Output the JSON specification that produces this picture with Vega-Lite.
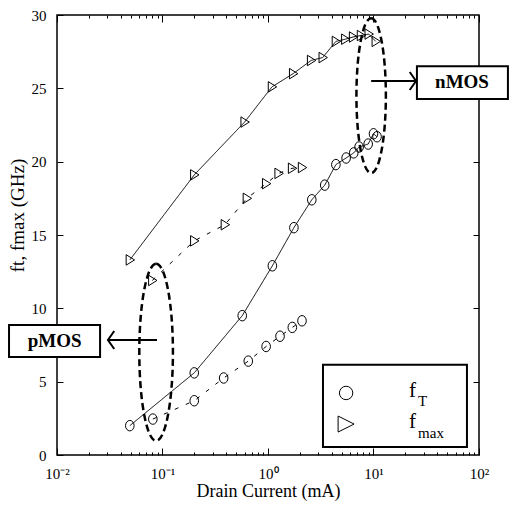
{
  "$schema": "https://vega.github.io/schema/vega-lite/v6.json",
  "width": 422,
  "height": 440,
  "autosize": {"type": "none"},
  "padding": {"left": 57, "top": 15, "right": 30, "bottom": 54},
  "background": "white",
  "config": {
    "view": {"stroke": "black", "strokeWidth": 1.5},
    "font": "Liberation Serif",
    "axis": {
      "grid": false,
      "domain": false,
      "tickColor": "black",
      "labelColor": "black",
      "titleColor": "black",
      "labelFont": "Liberation Serif",
      "titleFont": "Liberation Serif",
      "titleFontWeight": "normal"
    }
  },
  "datasets": {
    "series": [
      {"device": "nMOS", "param": "fmax", "I": 0.049, "f": 13.3},
      {"device": "nMOS", "param": "fmax", "I": 0.2, "f": 19.1},
      {"device": "nMOS", "param": "fmax", "I": 0.6, "f": 22.7},
      {"device": "nMOS", "param": "fmax", "I": 1.09, "f": 25.1},
      {"device": "nMOS", "param": "fmax", "I": 1.73, "f": 26.0},
      {"device": "nMOS", "param": "fmax", "I": 2.56, "f": 26.9},
      {"device": "nMOS", "param": "fmax", "I": 3.3, "f": 27.1},
      {"device": "nMOS", "param": "fmax", "I": 4.4, "f": 28.2},
      {"device": "nMOS", "param": "fmax", "I": 5.4, "f": 28.35},
      {"device": "nMOS", "param": "fmax", "I": 6.4, "f": 28.5},
      {"device": "nMOS", "param": "fmax", "I": 7.6, "f": 28.6},
      {"device": "nMOS", "param": "fmax", "I": 9.0, "f": 28.7},
      {"device": "nMOS", "param": "fmax", "I": 10.5, "f": 28.2},
      {"device": "nMOS", "param": "fT", "I": 0.049, "f": 2.0},
      {"device": "nMOS", "param": "fT", "I": 0.2, "f": 5.6},
      {"device": "nMOS", "param": "fT", "I": 0.57, "f": 9.5},
      {"device": "nMOS", "param": "fT", "I": 1.1, "f": 12.9},
      {"device": "nMOS", "param": "fT", "I": 1.76, "f": 15.5},
      {"device": "nMOS", "param": "fT", "I": 2.6, "f": 17.4},
      {"device": "nMOS", "param": "fT", "I": 3.45, "f": 18.4},
      {"device": "nMOS", "param": "fT", "I": 4.4, "f": 19.8},
      {"device": "nMOS", "param": "fT", "I": 5.5, "f": 20.25},
      {"device": "nMOS", "param": "fT", "I": 6.5, "f": 20.6},
      {"device": "nMOS", "param": "fT", "I": 7.3, "f": 21.0},
      {"device": "nMOS", "param": "fT", "I": 8.9, "f": 21.2},
      {"device": "nMOS", "param": "fT", "I": 10.0, "f": 21.9},
      {"device": "nMOS", "param": "fT", "I": 10.8, "f": 21.7},
      {"device": "pMOS", "param": "fmax", "I": 0.08, "f": 11.9},
      {"device": "pMOS", "param": "fmax", "I": 0.2, "f": 14.6},
      {"device": "pMOS", "param": "fmax", "I": 0.39, "f": 15.7},
      {"device": "pMOS", "param": "fmax", "I": 0.63, "f": 17.5},
      {"device": "pMOS", "param": "fmax", "I": 0.96, "f": 18.5},
      {"device": "pMOS", "param": "fmax", "I": 1.26, "f": 19.2},
      {"device": "pMOS", "param": "fmax", "I": 1.69, "f": 19.55},
      {"device": "pMOS", "param": "fmax", "I": 2.1, "f": 19.6},
      {"device": "pMOS", "param": "fT", "I": 0.081, "f": 2.45},
      {"device": "pMOS", "param": "fT", "I": 0.2, "f": 3.7},
      {"device": "pMOS", "param": "fT", "I": 0.38, "f": 5.25},
      {"device": "pMOS", "param": "fT", "I": 0.65, "f": 6.4},
      {"device": "pMOS", "param": "fT", "I": 0.96, "f": 7.4},
      {"device": "pMOS", "param": "fT", "I": 1.3, "f": 8.1},
      {"device": "pMOS", "param": "fT", "I": 1.7, "f": 8.7},
      {"device": "pMOS", "param": "fT", "I": 2.1, "f": 9.15}
    ],
    "ovals": [
      {"device": "nMOS", "I": 9.5, "f": 24.5},
      {"device": "pMOS", "I": 0.087, "f": 7.0}
    ],
    "arrows": [
      {"device": "nMOS", "I": 25.3, "I2": 9.5, "f": 25.5},
      {"device": "pMOS", "I": 0.0304, "I2": 0.0887, "f": 7.84}
    ],
    "tags": [
      {"device": "nMOS", "I": 25.8, "I2": 188, "f": 26.5, "f2": 24.27, "Ic": 69, "fc": 25.4},
      {"device": "pMOS", "I": 0.00351, "I2": 0.0256, "f": 8.86, "f2": 6.68, "Ic": 0.0095, "fc": 7.78}
    ],
    "keybox": [
      {"I": 3.32, "I2": 76.9, "f": 6.15, "f2": 0.55}
    ],
    "keys": [
      {"param": "fT", "sub": "T", "I": 5.5, "f": 4.23},
      {"param": "fmax", "sub": "max", "I": 5.5, "f": 2.11}
    ]
  },
  "resolve": {
    "axis": {"x": "independent", "y": "independent"},
    "scale": {"shape": "independent", "size": "independent"}
  },
  "layer": [
    {
      "data": {"name": "series"},
      "mark": {"type": "line", "color": "black", "strokeWidth": 1},
      "encoding": {
        "x": {
          "field": "I",
          "type": "quantitative",
          "scale": {"type": "log", "domain": [0.01, 100]},
          "axis": {
            "orient": "bottom",
            "values": [0.01, 0.1, 1, 10, 100],
            "labelExpr": "datum.value < 0.05 ? '10⁻²' : datum.value < 0.5 ? '10⁻¹' : datum.value < 5 ? '10⁰' : datum.value < 50 ? '10¹' : '10²'",
            "tickSize": -7,
            "labelPadding": 18,
            "labelFontSize": 15,
            "labelFlush": false,
            "labelOverlap": false,
            "title": "Drain Current (mA)",
            "titleFontSize": 18,
            "titleY": 36,
            "titleBaseline": "middle"
          }
        },
        "y": {
          "field": "f",
          "type": "quantitative",
          "scale": {"domain": [0, 30], "nice": false, "zero": false},
          "axis": {
            "orient": "left",
            "values": [0, 5, 10, 15, 20, 25, 30],
            "tickSize": -6,
            "labelPadding": 17,
            "labelFontSize": 15,
            "title": "ft, fmax (GHz)",
            "titleFontSize": 19,
            "titleX": -40,
            "titleY": 200,
            "titleBaseline": "middle"
          }
        },
        "detail": {"field": "param"},
        "strokeDash": {
          "field": "device",
          "type": "nominal",
          "scale": {"domain": ["nMOS", "pMOS"], "range": [[1, 0], [4, 8]]},
          "legend": null
        }
      }
    },
    {
      "data": {"name": "series"},
      "mark": {"type": "point", "filled": false, "stroke": "black", "strokeWidth": 1, "opacity": 1, "size": 110},
      "encoding": {
        "x": {
          "field": "I",
          "type": "quantitative",
          "axis": {
            "orient": "bottom",
            "values": [0.02, 0.03, 0.04, 0.05, 0.06, 0.07, 0.08, 0.09, 0.2, 0.3, 0.4, 0.5, 0.6, 0.7, 0.8, 0.9, 2, 3, 4, 5, 6, 7, 8, 9, 20, 30, 40, 50, 60, 70, 80, 90],
            "labels": false,
            "tickSize": -3,
            "title": null
          }
        },
        "y": {
          "field": "f",
          "type": "quantitative",
          "axis": {
            "orient": "right",
            "values": [5, 10, 15, 20, 25],
            "labels": false,
            "tickSize": -6,
            "title": null
          }
        },
        "shape": {
          "field": "param",
          "type": "nominal",
          "scale": {
            "domain": ["fT", "fmax"],
            "range": ["M0,-1A0.82,1 0 1,1 0,1A0.82,1 0 1,1 0,-1Z", "M-0.7,-1L0.9,0L-0.7,1Z"]
          },
          "legend": null
        }
      }
    },
    {
      "data": {"name": "ovals"},
      "mark": {
        "type": "point",
        "filled": false,
        "stroke": "black",
        "strokeWidth": 2.5,
        "strokeDash": [7, 4],
        "opacity": 1,
        "shape": "M0,-1A0.19,1 0 1,1 0,1A0.19,1 0 1,1 0,-1Z"
      },
      "encoding": {
        "x": {
          "field": "I",
          "type": "quantitative",
          "axis": {
            "orient": "top",
            "values": [0.01, 0.1, 1, 10, 100],
            "labels": false,
            "tickSize": -7,
            "title": null
          }
        },
        "y": {"field": "f", "type": "quantitative", "axis": null},
        "size": {
          "field": "device",
          "type": "ordinal",
          "scale": {"domain": ["nMOS", "pMOS"], "range": [24025, 31329]},
          "legend": null
        }
      }
    },
    {
      "data": {"name": "arrows"},
      "mark": {"type": "rule", "color": "black", "strokeWidth": 2},
      "encoding": {
        "x": {
          "field": "I2",
          "type": "quantitative",
          "axis": {
            "orient": "top",
            "values": [0.02, 0.03, 0.04, 0.05, 0.06, 0.07, 0.08, 0.09, 0.2, 0.3, 0.4, 0.5, 0.6, 0.7, 0.8, 0.9, 2, 3, 4, 5, 6, 7, 8, 9, 20, 30, 40, 50, 60, 70, 80, 90],
            "labels": false,
            "tickSize": -3,
            "title": null
          }
        },
        "x2": {"field": "I"},
        "y": {"field": "f", "type": "quantitative", "axis": null}
      }
    },
    {
      "data": {"name": "arrows"},
      "mark": {"type": "point", "filled": false, "stroke": "black", "strokeWidth": 2, "opacity": 1, "size": 324},
      "encoding": {
        "x": {"field": "I", "type": "quantitative", "axis": null},
        "y": {"field": "f", "type": "quantitative", "axis": null},
        "shape": {
          "field": "device",
          "type": "nominal",
          "scale": {"domain": ["nMOS", "pMOS"], "range": ["M-0.7,-1L0,0L-0.7,1", "M0.7,-1L0,0L0.7,1"]},
          "legend": null
        }
      }
    },
    {
      "data": {"name": "tags"},
      "mark": {"type": "rect", "fill": "white", "stroke": "black", "strokeWidth": 2},
      "encoding": {
        "x": {"field": "I", "type": "quantitative", "axis": null},
        "x2": {"field": "I2"},
        "y": {"field": "f", "type": "quantitative", "axis": null},
        "y2": {"field": "f2"}
      }
    },
    {
      "data": {"name": "tags"},
      "mark": {"type": "text", "font": "Liberation Serif", "fontWeight": "bold", "fontSize": 19, "align": "center", "baseline": "middle", "color": "black"},
      "encoding": {
        "x": {"field": "Ic", "type": "quantitative", "axis": null},
        "y": {"field": "fc", "type": "quantitative", "axis": null},
        "text": {"field": "device"}
      }
    },
    {
      "data": {"name": "keybox"},
      "mark": {"type": "rect", "fill": "white", "stroke": "black", "strokeWidth": 2},
      "encoding": {
        "x": {"field": "I", "type": "quantitative", "axis": null},
        "x2": {"field": "I2"},
        "y": {"field": "f", "type": "quantitative", "axis": null},
        "y2": {"field": "f2"}
      }
    },
    {
      "data": {"name": "keys"},
      "mark": {"type": "point", "filled": false, "stroke": "black", "strokeWidth": 1, "opacity": 1},
      "encoding": {
        "x": {"field": "I", "type": "quantitative", "axis": null},
        "y": {"field": "f", "type": "quantitative", "axis": null},
        "shape": {
          "field": "param",
          "type": "nominal",
          "scale": {"domain": ["fT", "fmax"], "range": ["circle", "M-1,-1L1,0L-1,1Z"]},
          "legend": null
        },
        "size": {
          "field": "param",
          "type": "ordinal",
          "scale": {"domain": ["fT", "fmax"], "range": [180, 256]},
          "legend": null
        }
      }
    },
    {
      "data": {"name": "keys"},
      "mark": {"type": "text", "text": "f", "font": "Liberation Serif", "fontSize": 21, "align": "left", "baseline": "alphabetic", "dx": 63, "dy": 4, "color": "black"},
      "encoding": {
        "x": {"field": "I", "type": "quantitative", "axis": null},
        "y": {"field": "f", "type": "quantitative", "axis": null}
      }
    },
    {
      "data": {"name": "keys"},
      "mark": {"type": "text", "font": "Liberation Serif", "fontSize": 15, "align": "left", "baseline": "alphabetic", "dx": 72, "dy": 13.5, "color": "black"},
      "encoding": {
        "x": {"field": "I", "type": "quantitative", "axis": null},
        "y": {"field": "f", "type": "quantitative", "axis": null},
        "text": {"field": "sub"}
      }
    }
  ]
}
